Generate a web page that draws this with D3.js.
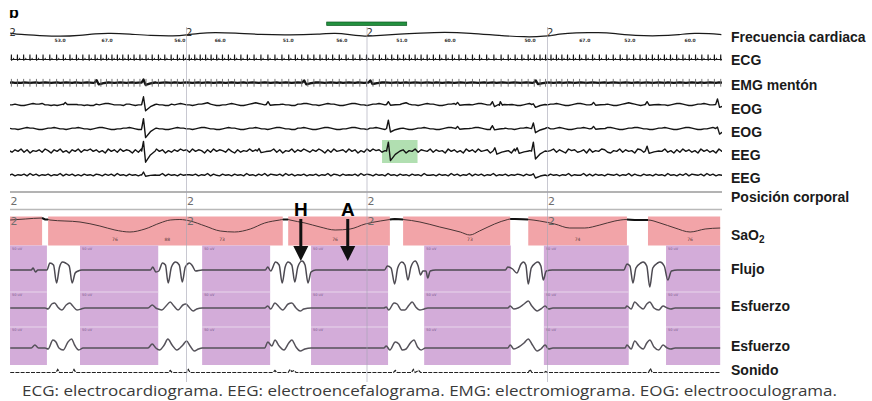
<!DOCTYPE html>
<html>
<head>
<meta charset="utf-8">
<script src="https://cdn.jsdelivr.net/npm/d3@7"></script>
<style>
  body { margin: 0; background: #fff; }
  svg { display: block; }
</style>
</head>
<body>
<svg id="psg" width="872" height="401"></svg>
<script>
// ===== DATA (time in seconds) =====
const epochStarts = [0, 30, 60, 90];
const bodyPosition = ["2", "2", "2", "2"];

const channelLabels = ["Frecuencia cardiaca", "ECG", "EMG mentón", "EOG", "EOG", "EEG", "EEG",
  "Posición corporal", "SaO2", "Flujo", "Esfuerzo", "Esfuerzo", "Sonido"];

const caption = "ECG: electrocardiograma. EEG: electroencefalograma. EMG: electromiograma. EOG: electrooculograma.";

// heart rate trace, bpm
const heartRate = [[0.7,67],[2.3,61],[5.6,57],[9.0,53],[12.3,57],[14.8,65],[17.3,67],[20.6,63],[23.9,57],
  [28.1,55],[29.9,59],[32.2,67],[34.7,69],[38.0,67],[42.2,61],[47.2,59],[52.2,63],[54.7,67],[57.1,61],
  [59.6,53],[62.1,57],[65.4,63],[68.8,67],[72.9,71],[77.1,67],[82.1,57],[86.2,51],[89.5,53],[92.0,63],
  [94.5,69],[98.7,69],[101.2,65],[104.5,57],[108.6,55],[112.0,61],[114.5,67],[116.9,65],[118.9,61]];
const heartRateLabels = [[9.0,"53.0"],[16.8,"67.0"],[28.9,"56.0"],[35.6,"66.0"],[46.9,"51.0"],[55.8,"56.0"],
  [65.8,"51.0"],[73.8,"60.0"],[87.1,"50.0"],[96.2,"67.0"],[103.7,"52.0"],[113.7,"60.0"]];

// ECG: first beat and R-R intervals (centiseconds)
const ecgStart = 0.9;
const rrIntervals = ("100 103 105 108 110 112 113 112 110 108 106 104 100 96 93 91 90 90 92 95 98 101 103 104 " +
  "105 106 104 100 96 92 91 90 91 93 96 99 102 105 108 111 114 116 117 116 113 110 106 102 100 101 104 107 " +
  "110 113 115 114 111 108 106 104 101 99 97 96 97 99 101 103 104 105 107 109 111 114 117 119 120 120 118 " +
  "115 111 106 101 96 92 90 90 91 94 98 102 106 110 113 115 116 115 113 110 107 104 101 100 100 101 103 104 " +
  "105 105 104 104 105 105 106").split(" ").map(Number);
const ecgBeat = [[-0.15,0],[-0.06,0],[-0.03,0.6],[0,5],[0.03,-1.2],[0.07,0],[0.3,0],[0.36,0.8],[0.45,0]];

// EMG / EOG / EEG: one digit every 0.5 s, plus hand-read deflections [t, up, down]
const noiseStart = 0.5, noiseStep = 0.5;
const emgNoise = `4534354345 3454345345 4354345434 5345434543 4534543454 3454354345
 4345345434 5434543453 4543454345 3454345435 4345434543 5345435434
 4543454345 3453454345 4354345434 5434543453 4534543454 3454354345
 4345345434 5434543453 4543454345 3454345435 4345434543 5345435434`;
const eog1Noise = `4454334565 5644343455 6654434335 4566544435 5434456765 4433545654
 4345567543 3445654334 5676543345 5544335566 5443456554 3345665443
 4556543344 5675443456 5543345565 4433456654 4345566543 3456654434
 5565433456 6544345565 4334567654 3445565443 4566543345 5654433456`;
const eog2Noise = `5443456554 3345565443 4556544345 6654334455 6543345665 4433456554
 4345665443 3456554334 5565443456 6544335565 4334566543 3445665443
 5565433456 6543345565 4433456654 4345566543 3456654434 5565433456
 4456543345 5654433456 6543345566 5443345565 4334566543 3445654434`;
const eeg1Noise = `5364736254 6375264735 2647365746 3527463746 5263746537 4625364756
 3746526374 6537426354 7463526473 6254736475 3647526374 5637462537
 4756352647 3625473654 7364527463 5274637456 2637465273 6475326374
 5736427563 4627354763 2547364527 6374526473 5263746352 7463527463`;
const eeg2Noise = `4635463746 3546354736 4635364536 5364637453 6453546374 4736453645
 5463547364 3645364537 4536473654 6374635463 5463547365 3645463746
 5364537453 6453645374 4536453746 3547364635 4735463546 5364637453
 6453547354 4736364536 5463547364 3645364537 4536473654 6374635463`;
const emgSpikes  = [[15.0,8,6],[22.8,10,8],[49.5,7,6],[60.5,7,5],[88.0,7,5]];
const eog1Spikes = [[9.8,3,0],[22.8,11,9],[43.5,4,1],[63.5,4,1],[75.0,3,1],[80.8,4,3],[82.1,4,1],
  [87.6,1,4],[97.6,3,1],[106.5,4,1],[118.2,8,4]];
const eog2Spikes = [[22.8,14,13],[63.5,12,5],[75.0,3,1],[80.8,4,2],[87.6,8,6],[97.6,3,1],[118.2,2,8]];
const eeg1Spikes = [[22.8,12,14],[42.0,3,2],[63.5,11,12],[81.2,4,4],[84.9,4,3],[87.6,11,10],[106.5,6,3]];
const eeg2Spikes = [[22.8,5,2],[87.6,2,5]];
const spikeShape = [[-0.25,0,0],[0.05,1,0],[0.4,0,-1],[1.2,0,-0.35],[2.0,0,0]];

// scored events
const arousalBar = [53.3, 66.6];
const arousalBox = [62.5, 68.4];
const desaturations = [[0.66,6.0],[7.0,46.0],[46.9,63.8],[66.0,83.8],[86.8,103.2],[106.7,118.7]];
const apneas = [[0.66,6.8],[12.3,25.3],[32.6,43.9],[50.7,63.5],[69.5,83.9],[89.4,103.5],[109.7,118.7]];
const eventMarks = [["H", 49.0], ["A", 56.8]];

// SaO2, %
const saturation = [[0.7,88],[3.2,89],[6.0,90],[6.5,88.5],[7.0,88.5],[7.3,88],[12.3,86],[15.6,82],[18.1,78],
  [20.6,76],[23.1,79],[25.6,85],[27.3,88],[28.9,88.5],[30.6,87],[33.1,82],[35.6,77],[38.0,76],[40.6,79],
  [43.0,85],[45.5,88],[46.0,88.5],[46.9,88.5],[47.2,88],[49.7,85],[52.2,81],[54.7,78],[57.2,79],[59.7,84],
  [62.2,87],[63.8,88.5],[64.6,89],[66.0,88.5],[68.8,86],[72.1,81],[75.5,76],[77.1,73],[78.7,77],[81.2,84],
  [83.4,88.5],[83.8,89],[84.6,89],[86.8,88.5],[88.7,87],[91.2,84],[93.7,80],[96.2,80],[98.7,83],[101.2,87],
  [103.2,88.5],[104.5,88],[106.7,88],[108.7,85],[111.2,80],[113.7,76],[116.2,79],[118.7,80]];
const saturationLabels = [[18.1,"76"],[26.8,"88"],[35.9,"73"],[54.7,"76"],[77.1,"73"],[95.0,"74"],[113.7,"76"]];

// respiratory flow, thoraco-abdominal effort, snoring
const flow = [[0.7,0],[4.2,0],[4.5,2],[4.9,-2],[5.3,0],[6.8,0],
  [7.3,7],[7.9,5],[8.4,-13],[8.9,3],[9.4,8],[9.9,7],[10.5,4],[11.0,-13],[11.5,-3],[12.0,-1],[12.6,0],
  [24.0,0],[24.4,3],[24.9,-2],[25.4,-1],[26.0,7],[26.5,5],[26.95,-13],[27.5,3],[28.2,8],[28.8,5],[29.3,-12],
  [29.8,3],[30.5,7],[31.0,4],[31.5,-1],[32.6,0],
  [43.1,0],[43.5,3],[44.0,-1],[44.8,8],[45.4,5],[45.9,-13],[46.4,3],[46.9,8],[47.5,5],[48.0,-12],[48.5,3],
  [49.2,9],[49.7,5],[50.2,-13],[50.7,-2],[51.5,0],
  [62.9,0],[63.4,4],[64.0,2],[64.6,-14],[65.1,2],[65.8,8],[66.3,5],[66.8,-10],[67.3,3],[68.0,9],[68.5,4],
  [68.9,-5],[69.3,-1],[69.8,-1],[70.1,-8],[70.5,-1],[71.4,0],
  [83.0,0],[83.4,3],[84.2,1],[84.9,-3],[85.6,6],[86.0,8],[86.4,5],[86.8,-14],[87.3,2],[88.0,7],[88.4,8],
  [88.9,4],[89.3,-10],[89.8,-1],[90.8,0],
  [102.7,0],[103.2,6],[103.7,4],[104.2,-13],[104.7,2],[105.5,7],[105.9,8],[106.5,4],[107.0,-17],[107.5,2],
  [108.3,7],[108.7,8],[109.4,4],[110.0,-10],[110.6,-1],[111.6,0],[118.7,0]];
const effortA = [[0.7,0],[6.5,0],[7.0,-1],[7.6,4],[8.1,5],[8.6,1],[9.3,-2],[10.0,3],[10.6,5],[11.1,2],[11.8,-2],
  [12.5,-1],[13.1,0],
  [23.6,0],[24.3,3],[24.9,0],[25.3,-1],[25.9,-2],[26.6,2],[27.3,6],[27.9,2],[28.6,-2],[29.4,3],[29.9,4],
  [30.4,1],[31.1,-3],[31.7,-1],[32.6,0],
  [43.0,0],[43.5,2],[44.0,-1],[44.7,5],[45.4,1],[46.0,-2],[46.9,4],[47.5,5],[48.2,0],[48.9,-3],[49.5,-1],[50.7,0],
  [62.8,0],[63.2,1],[63.6,-2],[64.5,5],[65.0,4],[65.7,-2],[66.3,-2],[67.0,3],[67.5,6],[68.1,1],[68.8,-2],
  [69.5,-1],[70.1,0],
  [83.4,0],[83.8,2],[84.4,-1],[85.1,0],[86.1,4],[86.8,7],[87.4,2],[88.3,-3],[88.9,-1],[89.6,2],[90.2,-1],[90.9,0],
  [102.9,0],[103.2,2],[103.9,-1],[104.5,6],[105.2,2],[105.9,-1],[106.5,4],[107.0,6],[107.7,0],[108.5,-2],
  [109.2,2],[109.9,0],[110.5,-1],[111.2,0],[118.7,0]];
const effortB = [[0.7,0],[4.2,0],[4.8,3],[5.4,0],[6.5,0],[7.0,-1],[7.8,8],[8.3,6],[8.8,0],[9.5,-2],[10.3,6],
  [10.9,9],[11.4,3],[12.1,-2],[12.8,0],
  [23.6,0],[24.3,4],[24.9,0],[25.5,-2],[26.3,3],[26.9,9],[27.6,3],[28.4,-2],[29.4,3],[30.0,7],[30.6,2],
  [31.3,-3],[32.0,-1],[32.6,0],
  [43.0,0],[43.5,6],[44.2,2],[44.7,8],[45.4,2],[46.2,-2],[47.0,5],[47.5,8],[48.2,1],[48.9,-3],[49.7,-1],[50.7,0],
  [62.8,0],[63.2,2],[63.8,-2],[64.7,6],[65.3,4],[65.9,-2],[66.5,-1],[67.2,5],[67.8,8],[68.4,1],[69.0,-2],[69.7,0],
  [83.4,0],[83.8,3],[84.4,-1],[85.2,1],[86.1,5],[86.8,9],[87.5,3],[88.3,-3],[88.9,-1],[89.6,3],[90.2,-1],[90.9,0],
  [102.9,0],[103.2,3],[103.9,-1],[104.5,7],[105.2,2],[105.9,-1],[106.5,5],[107.0,8],[107.7,1],[108.5,-2],
  [109.2,3],[109.9,0],[110.5,-1],[111.2,0],[118.7,0]];
const snoring = [[0.7,0],[8.3,0],[8.6,3],[8.9,0],[11.0,0],[11.3,3],[11.6,0],[27.0,0],[27.3,2],[27.6,0],[30.0,0],
  [30.3,3],[30.6,0],[44.4,0],[44.7,2],[45.0,0],[46.9,0],[47.2,3],[47.5,1],[47.9,2],[48.2,0],[64.4,0],[64.7,2],
  [65.0,0],[67.4,0],[67.7,3],[68.0,0],[68.6,2],[68.9,0],[86.8,0],[87.1,3],[87.4,0],[89.5,0],[89.7,1],[90.0,0],
  [106.8,0],[107.1,4],[107.4,0],[118.7,0]];

// ===== LAYOUT =====
const svg = d3.select("#psg");
const x = d3.scaleLinear().domain([0, 120]).range([6, 728]);
const plotLeft = 10, plotRight = 722;

const labelY = d3.scaleOrdinal().domain(d3.range(channelLabels.length))
  .range([42, 65, 90, 114, 137, 160, 183, 202, 240, 274, 311, 351, 375]);

const yHR = d3.scaleLinear().domain([40, 80]).range([39.8, 29.8]);
const yECG = d3.scaleLinear().domain([-2, 6]).range([61.5, 53.5]);
const noiseY = (center, gain) => d3.scaleLinear().domain([-4.5, 4.5]).range([center + 4.5 * gain, center - 4.5 * gain]);
const yEMG = noiseY(82.5, 0.3), yEOG1 = noiseY(104.5, 0.7), yEOG2 = noiseY(128.5, 0.7);
const yEEG1 = noiseY(151, 0.8), yEEG2 = noiseY(175, 0.6);
const ySat = d3.scaleLinear().domain([70, 95]).range([238, 213]);
const yFlow = d3.scaleLinear().domain([-15, 10]).range([285, 260]);
const yEffA = d3.scaleLinear().domain([-5, 10]).range([313, 298]);
const yEffB = d3.scaleLinear().domain([-5, 10]).range([353, 338]);
const ySnore = d3.scaleLinear().domain([0, 5]).range([372.5, 367.5]);

svg.append("defs").append("clipPath").attr("id", "plot")
  .append("rect").attr("x", plotLeft).attr("y", 0).attr("width", plotRight - plotLeft).attr("height", 401);

const lineOf = (ys, curve) => d3.line().x(d => x(d[0])).y(d => ys(d[1])).curve(curve || d3.curveLinear);

// panel letter (cropped at top like the source)
svg.append("defs").append("clipPath").attr("id", "letterClip")
  .append("rect").attr("x", 0).attr("y", 10).attr("width", 40).attr("height", 20);
svg.append("text").attr("clip-path", "url(#letterClip)")
  .attr("x", 9).attr("y", 18).text("b")
  .attr("font-family", "Liberation Sans, Arial, sans-serif").attr("font-weight", "bold").attr("font-size", 16);

// ===== EVENT BLOCKS =====
const blocks = svg.append("g").attr("clip-path", "url(#plot)");
blocks.selectAll("rect.desat").data(desaturations).join("rect")
  .attr("class", "desat")
  .attr("x", d => x(d[0])).attr("width", d => x(d[1]) - x(d[0]))
  .attr("y", 216.5).attr("height", 29).attr("fill", "#f2a4a8");
blocks.selectAll("rect.apnea").data(apneas).join("rect")
  .attr("class", "apnea")
  .attr("x", d => x(d[0])).attr("width", d => x(d[1]) - x(d[0]))
  .attr("y", 245.5).attr("height", 119.5).attr("fill", "#d3acd9");
[292, 327].forEach(yy => {
  blocks.selectAll(null).data(apneas).join("line")
    .attr("x1", d => x(d[0])).attr("x2", d => x(d[1]))
    .attr("y1", yy).attr("y2", yy).attr("stroke", "#e8d6eb").attr("stroke-width", 1);
});
[250, 296, 331].forEach(yy => {
  blocks.selectAll(null).data(apneas).join("text")
    .attr("x", d => x(d[0]) + 2).attr("y", yy).text("50 uV")
    .attr("font-size", 3.5).attr("fill", "#7b5a8c").attr("font-family", "DejaVu Sans, sans-serif");
});

// arousal marks
svg.append("rect")
  .attr("x", x(arousalBar[0])).attr("width", x(arousalBar[1]) - x(arousalBar[0]))
  .attr("y", 22).attr("height", 3.5)
  .attr("fill", "#23913f").attr("stroke", "#0d5a22").attr("stroke-width", 0.7);
svg.append("rect")
  .attr("x", x(arousalBox[0])).attr("width", x(arousalBox[1]) - x(arousalBox[0]))
  .attr("y", 140).attr("height", 23)
  .attr("fill", "#9dd79d").attr("opacity", 0.8);

// ===== TRACES =====
const traces = svg.append("g").attr("clip-path", "url(#plot)").attr("fill", "none");

// heart rate
traces.append("path").datum(heartRate)
  .attr("d", lineOf(yHR, d3.curveBasis)).attr("stroke", "#1a1a1a").attr("stroke-width", 1.2);
svg.selectAll("text.hr").data(heartRateLabels).join("text")
  .attr("class", "hr").attr("x", d => x(d[0])).attr("y", 42).text(d => d[1])
  .attr("text-anchor", "middle").attr("font-size", 4.5).attr("font-weight", "bold")
  .attr("fill", "#333").attr("font-family", "DejaVu Sans, sans-serif");

// ECG
const beatTimes = rrIntervals.reduce((acc, r) => { acc.push(acc[acc.length - 1] + r / 100); return acc; }, [ecgStart]);
const ecgPoints = beatTimes.flatMap(t => ecgBeat.map(([dt, v]) => [t + dt, v]));
traces.append("path").datum(ecgPoints)
  .attr("d", lineOf(yECG)).attr("stroke", "#1a1a1a").attr("stroke-width", 1.1);

// EMG / EOG / EEG
function tracePoints(noise, spikes) {
  const digits = noise.replace(/\s/g, "").split("").map(Number);
  const inSpike = t => spikes.some(s => t > s[0] - 0.3 && t < s[0] + 2.05);
  const pts = digits.map((v, i) => [noiseStart + i * noiseStep, v - 4.5]).filter(p => !inSpike(p[0]));
  spikes.forEach(([t, up, down]) => spikeShape.forEach(([dt, a, b]) => pts.push([t + dt, a * up + b * down])));
  return pts.sort((a, b) => a[0] - b[0]);
}
const signalRows = [
  [emgNoise, emgSpikes, yEMG, 2.3],
  [eog1Noise, eog1Spikes, yEOG1, 1.4],
  [eog2Noise, eog2Spikes, yEOG2, 1.4],
  [eeg1Noise, eeg1Spikes, yEEG1, 1.4],
  [eeg2Noise, eeg2Spikes, yEEG2, 1.4]
];
signalRows.forEach(([noise, spikes, ys, w]) => {
  traces.append("path").datum(tracePoints(noise, spikes))
    .attr("d", lineOf(ys)).attr("stroke", "#141414").attr("stroke-width", w).attr("stroke-linejoin", "round");
});
// ECG artefact ticks on the chin EMG
traces.selectAll("line.emgTick").data(beatTimes).join("line")
  .attr("class", "emgTick").attr("x1", d => x(d)).attr("x2", d => x(d))
  .attr("y1", yEMG(-14)).attr("y2", yEMG(12)).attr("stroke", "#666").attr("stroke-width", 0.9);

// body position
svg.append("line").attr("x1", plotLeft).attr("x2", plotRight).attr("y1", 192).attr("y2", 192)
  .attr("stroke", "#9a9a9a").attr("stroke-width", 1.6);
svg.append("line").attr("x1", plotLeft).attr("x2", plotRight).attr("y1", 209.5).attr("y2", 209.5)
  .attr("stroke", "#b9b9b9").attr("stroke-width", 1.4);

// SaO2
traces.append("path").datum(saturation)
  .attr("d", lineOf(ySat, d3.curveMonotoneX)).attr("stroke", "#4a3535").attr("stroke-width", 1);
d3.pairs(desaturations).forEach(([a, b]) => {
  traces.append("path").datum(saturation.filter(p => p[0] >= a[1] && p[0] <= b[0]))
    .attr("d", lineOf(ySat)).attr("stroke", "#111").attr("stroke-width", 2);
});
svg.selectAll("text.sat").data(saturationLabels).join("text")
  .attr("class", "sat").attr("x", d => x(d[0])).attr("y", 241).text(d => d[1])
  .attr("text-anchor", "middle").attr("font-size", 4.5).attr("fill", "#5a3a3a")
  .attr("font-family", "DejaVu Sans, sans-serif");

// respiration
traces.append("path").datum(flow)
  .attr("d", lineOf(yFlow, d3.curveMonotoneX)).attr("stroke", "#4d4a52").attr("stroke-width", 1.5);
traces.append("path").datum(effortA)
  .attr("d", lineOf(yEffA, d3.curveMonotoneX)).attr("stroke", "#55525a").attr("stroke-width", 1.5);
traces.append("path").datum(effortB)
  .attr("d", lineOf(yEffB, d3.curveMonotoneX)).attr("stroke", "#55525a").attr("stroke-width", 1.5);
traces.append("path").datum(snoring)
  .attr("d", lineOf(ySnore)).attr("stroke", "#222").attr("stroke-width", 1.2).attr("stroke-dasharray", "4 1.2");

// ===== EPOCH LINES AND POSITION CODES =====
svg.selectAll("line.epoch").data(epochStarts.filter(t => x(t) > plotLeft)).join("line")
  .attr("class", "epoch").attr("x1", d => x(d)).attr("x2", d => x(d))
  .attr("y1", 27).attr("y2", 382).attr("stroke", "#a4a4b4").attr("stroke-width", 1).attr("opacity", 0.6);
[36, 205, 225].forEach((yy, k) => {
  svg.selectAll(null).data(epochStarts).join("text")
    .attr("x", d => Math.max(plotLeft, x(d)) + (k === 0 ? -0.5 : 0.5)).attr("y", yy)
    .text((d, i) => bodyPosition[i])
    .attr("font-size", k === 0 ? 10 : 11).attr("fill", k === 0 ? "#333" : "#6e6e6e")
    .attr("font-family", "DejaVu Sans, sans-serif");
});

// ===== H / A ARROWS =====
const marks = svg.selectAll("g.mark").data(eventMarks).join("g")
  .attr("class", "mark").attr("transform", d => `translate(${x(d[1])},0)`);
marks.append("text").attr("y", 216).attr("text-anchor", "middle").text(d => d[0])
  .attr("font-family", "Liberation Sans, Arial, sans-serif").attr("font-weight", "bold").attr("font-size", 19);
marks.append("line").attr("y1", 219).attr("y2", 248).attr("stroke", "#111").attr("stroke-width", 3);
marks.append("path").attr("d", "M-7.5,246 L7.5,246 L0,261 Z").attr("fill", "#111");

// ===== LABELS =====
const labels = svg.selectAll("text.lab").data(channelLabels).join("text")
  .attr("class", "lab").attr("x", 731).attr("y", (d, i) => labelY(i))
  .attr("font-family", "Liberation Sans, Arial, sans-serif").attr("font-weight", "bold")
  .attr("font-size", 14).attr("fill", "#1a1a1a");
labels.each(function (d) {
  const t = d3.select(this);
  if (d === "SaO2") {
    t.append("tspan").text("SaO");
    t.append("tspan").text("2").attr("font-size", 10).attr("dy", 3);
  } else {
    t.text(d);
  }
});

svg.append("text").attr("x", 22).attr("y", 396).text(caption)
  .attr("font-family", "Open Sans, sans-serif").attr("font-size", 15).attr("fill", "#3a3a3a")
  .attr("textLength", 815).attr("lengthAdjust", "spacingAndGlyphs");
</script>
</body>
</html>
